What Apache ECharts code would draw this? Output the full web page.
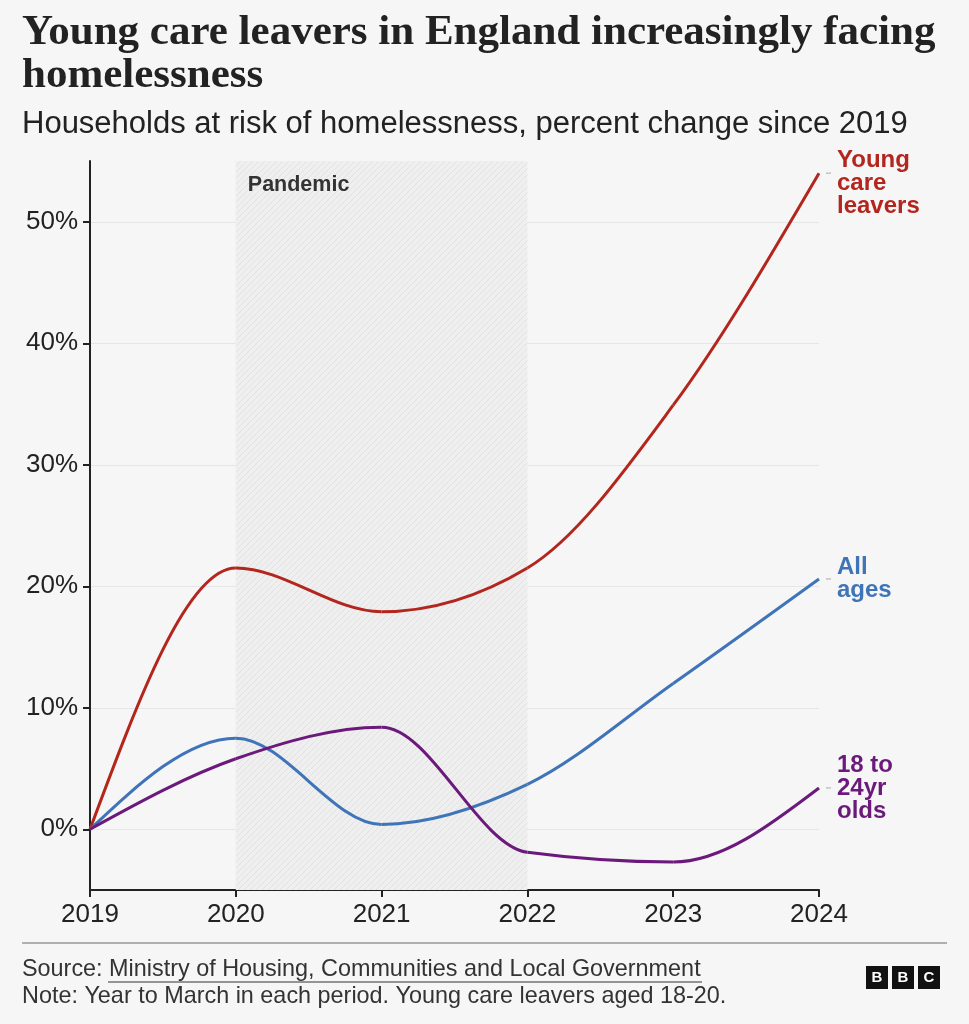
<!DOCTYPE html>
<html lang="en">
<head>
  <meta charset="UTF-8">
  <title>Young care leavers</title>
  <style>
    body { margin: 0; background: #f6f6f6; }
    #main { width: 969px; height: 1024px; }
  </style>
</head>
<body>
<div id="main"></div>
<script src="https://cdn.jsdelivr.net/npm/echarts@6/dist/echarts.min.js"></script>
<script>
  // data (percent change since 2019)
  const years = ['2019', '2020', '2021', '2022', '2023', '2024'];
  const careLeavers = [0, 21.5, 17.9, 21.5, 34.9, 54.0];
  const allAges = [0, 7.5, 0.4, 3.7, 12.0, 20.6];
  const youngAdults = [0, 5.8, 8.4, -1.9, -2.7, 3.4];
  const yTicks = [0, 10, 20, 30, 40, 50];

  const sans = 'Liberation Sans';

  // hatch pattern for the pandemic band
  function hatch() {
    const c = document.createElement('canvas');
    c.width = 6; c.height = 6;
    const g = c.getContext('2d');
    g.fillStyle = '#efefef';
    g.fillRect(0, 0, 6, 6);
    g.strokeStyle = '#e2e2e2';
    g.lineWidth = 1;
    g.beginPath();
    g.moveTo(0, 6); g.lineTo(6, 0);
    g.moveTo(-3, 3); g.lineTo(3, -3);
    g.moveTo(3, 9); g.lineTo(9, 3);
    g.stroke();
    return c;
  }

  // monotone-x tangents (same rule as d3.curveMonotoneX), in pixel space
  function tangents(pts) {
    const n = pts.length;
    const t = new Array(n).fill(0);
    const sign = v => (v < 0 ? -1 : 1);
    for (let i = 1; i < n - 1; i++) {
      const h0 = pts[i][0] - pts[i - 1][0], h1 = pts[i + 1][0] - pts[i][0];
      const s0 = (pts[i][1] - pts[i - 1][1]) / h0, s1 = (pts[i + 1][1] - pts[i][1]) / h1;
      const p = (s0 * h1 + s1 * h0) / (h0 + h1);
      t[i] = (sign(s0) + sign(s1)) * Math.min(Math.abs(s0), Math.abs(s1), 0.5 * Math.abs(p)) || 0;
    }
    const h = pts[1][0] - pts[0][0];
    t[0] = (3 * (pts[1][1] - pts[0][1]) / h - t[1]) / 2;
    const hl = pts[n - 1][0] - pts[n - 2][0];
    t[n - 1] = (3 * (pts[n - 1][1] - pts[n - 2][1]) / hl - t[n - 2]) / 2;
    return t;
  }

  const chart = echarts.init(document.getElementById('main'));

  function curve(name, label, values, color, labelDy) {
    return {
      name: name,
      type: 'custom',
      data: values.map((v, i) => [i, v]),
      encode: { x: 0, y: 1 },
      renderItem: function (params, api) {
        const i = params.dataIndex;
        const pts = values.map((v, k) => api.coord([k, v]));
        const last = values.length - 1;
        if (i === last) {
          const p = pts[last];
          return {
            type: 'group',
            children: [
              { type: 'line', shape: { x1: p[0] + 7, y1: p[1], x2: p[0] + 12, y2: p[1] },
                style: { stroke: '#aaa', lineWidth: 1 } },
              {
                type: 'text', x: p[0] + 18, y: p[1] + (labelDy || 0),
                style: {
                  text: label, fill: color, fontFamily: sans, fontWeight: 'bold',
                  fontSize: 24, lineHeight: 23, verticalAlign: 'middle', align: 'left'
                }
              }
            ]
          };
        }
        const t = tangents(pts);
        const a = pts[i], b = pts[i + 1];
        const dx = (b[0] - a[0]) / 3;
        return {
          type: 'bezierCurve',
          shape: {
            x1: a[0], y1: a[1], x2: b[0], y2: b[1],
            cpx1: a[0] + dx, cpy1: a[1] + dx * t[i],
            cpx2: b[0] - dx, cpy2: b[1] - dx * t[i + 1]
          },
          style: { stroke: color, lineWidth: 3, fill: null }
        };
      },
      z: 3
    };
  }

  const option = {
    backgroundColor: '#f6f6f6',
    animation: false,
    title: [
      {
        text: 'Young care leavers in England increasingly facing\nhomelessness',
        left: 22, top: 11, padding: 0,
        textStyle: {
          fontFamily: 'Liberation Serif', fontWeight: 'bold',
          fontSize: 43, lineHeight: 43, color: '#222'
        }
      },
      {
        text: 'Households at risk of homelessness, percent change since 2019',
        left: 22, top: 109, padding: 0,
        textStyle: { fontFamily: sans, fontWeight: 'normal', fontSize: 31, color: '#222' }
      },
      {
        text: 'Source: Ministry of Housing, Communities and Local Government\nNote: Year to March in each period. Young care leavers aged 18-20.',
        left: 22, top: 956, padding: 0,
        textStyle: { fontFamily: sans, fontWeight: 'normal', fontSize: 23.4, lineHeight: 27, color: '#333' }
      }
    ],
    grid: { left: 90, right: 150, top: 161, bottom: 134, containLabel: false },
    xAxis: {
      type: 'category',
      data: years,
      boundaryGap: false,
      axisLine: { onZero: false, lineStyle: { color: '#222', width: 2 } },
      axisTick: { show: true, length: 7, lineStyle: { color: '#222', width: 2 } },
      axisLabel: { color: '#222', fontFamily: sans, fontSize: 26, margin: 12 },
      splitLine: { show: false }
    },
    yAxis: {
      type: 'value',
      min: -5,
      max: 55,
      axisLine: { show: true, lineStyle: { color: '#222', width: 2 } },
      axisTick: { show: true, length: 7, customValues: yTicks, lineStyle: { color: '#222', width: 2 } },
      axisLabel: {
        customValues: yTicks,
        formatter: '{value}%',
        color: '#222', fontFamily: sans, fontSize: 26, margin: 12
      },
      splitLine: { show: true, lineStyle: { color: '#e6e6e6', width: 1 } }
    },
    series: [
      {
        name: 'Pandemic',
        type: 'line',
        data: [],
        markArea: {
          silent: true,
          itemStyle: { color: { image: hatch(), repeat: 'repeat' } },
          label: {
            show: true,
            position: 'insideTopLeft',
            formatter: 'Pandemic',
            color: '#333', fontFamily: sans, fontWeight: 'bold', fontSize: 21.5,
            offset: [7, 8]
          },
          data: [[{ xAxis: '2020', yAxis: 55 }, { xAxis: '2022', yAxis: -5 }]]
        }
      },
      curve('Young care leavers', 'Young\ncare\nleavers', careLeavers, '#b3261e', 10),
      curve('All ages', 'All\nages', allAges, '#3f74b8', 0),
      curve('18 to 24yr olds', '18 to\n24yr\nolds', youngAdults, '#6b1a7b', 0)
    ],
    graphic: [
      // footer rule
      { type: 'line', shape: { x1: 22, y1: 943, x2: 947, y2: 943 }, style: { stroke: '#999', lineWidth: 1.5 } },
      // underline under source name
      { type: 'line', shape: { x1: 108, y1: 982, x2: 702, y2: 982 }, style: { stroke: '#333', lineWidth: 1 } },
      // BBC blocks
      {
        type: 'group', left: 866, top: 966,
        children: ['B', 'B', 'C'].flatMap((ch, i) => [
          { type: 'rect', shape: { x: i * 26, y: 0, width: 22, height: 23 }, style: { fill: '#111' } },
          {
            type: 'text', x: i * 26 + 11, y: 12,
            style: {
              text: ch, fill: '#fff', fontFamily: sans, fontWeight: 'bold', fontSize: 15,
              align: 'center', verticalAlign: 'middle'
            }
          }
        ])
      }
    ]
  };

  chart.setOption(option);
</script>
</body>
</html>
